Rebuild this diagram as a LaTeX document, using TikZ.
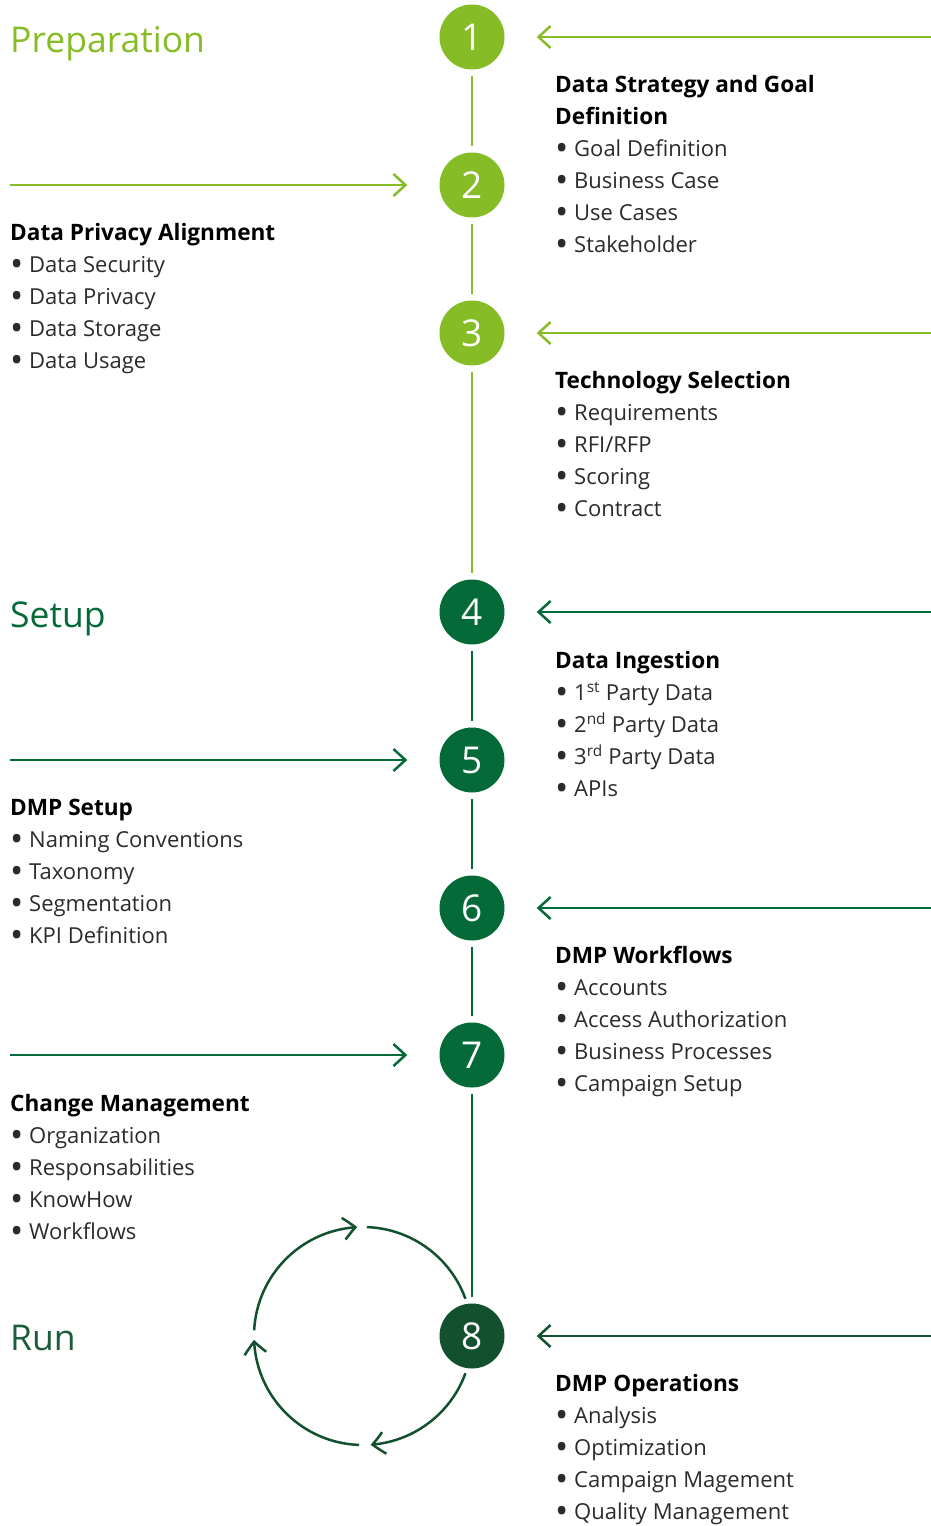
\documentclass[tikz,border=0pt]{standalone}
\usepackage{fontspec}
\setmainfont{Open Sans}
\usetikzlibrary{arrows.meta,bending}
\definecolor{lg}{HTML}{86BC25}
\definecolor{dg}{HTML}{046A38}
\definecolor{rg}{HTML}{12502E}
\definecolor{rt}{HTML}{1D5C3A}
\definecolor{txt}{HTML}{2B2B2B}
\newcommand\itm[1]{\makebox[19pt][l]{\raisebox{-4.5pt}{\scalebox{1.6}{•}}}#1}
\begin{document}
\begin{tikzpicture}[x=1pt,y=1pt,
  stepcircle/.style={circle, minimum size=65pt, inner sep=0pt, text=white, font=\fontsize{37}{37}\selectfont},
  link/.style={line width=2.5pt, shorten >=6pt, shorten <=6pt},
  feed/.style={line width=2.5pt, shorten >=32pt, -{Straight Barb[length=12pt,width=22pt]}},
  loopline/.style={line width=2.5pt, draw=rg},
  looptip/.style={loopline, -{Straight Barb[length=12pt,width=22pt,bend]}},
  phase/.style={anchor=base west, inner sep=0pt, font=\fontsize{35.5}{40}\selectfont},
  head/.style={anchor=base west, inner sep=0pt, font=\fontsize{22.6}{26}\selectfont\bfseries, text=black},
  itemtext/.style={anchor=base west, inner sep=0pt, font=\fontsize{22}{26}\selectfont, text=txt}]
\useasboundingbox (0,0) rectangle (931,-1526);

% phase titles
\node[phase, text=lg] (pPrep) at (10,-52) {Preparation};
\node[phase, text=dg] (pSetup) at (10,-627) {Setup};
\node[phase, text=rt] (pRun) at (10,-1350) {Run};

% step circles
\node[stepcircle, fill=lg] (c1) at (472,-37) {1};
\node[stepcircle, fill=lg] (c2) at (472,-185) {2};
\node[stepcircle, fill=lg] (c3) at (472,-333) {3};
\node[stepcircle, fill=dg] (c4) at (472,-612) {4};
\node[stepcircle, fill=dg] (c5) at (472,-760) {5};
\node[stepcircle, fill=dg] (c6) at (472,-908) {6};
\node[stepcircle, fill=dg] (c7) at (472,-1055) {7};
\node[stepcircle, fill=rg] (c8) at (472,-1336) {8};

% vertical links
\draw[link, lg] (c1) -- (c2);
\draw[link, lg] (c2) -- (c3);
\draw[link, lg] (c3) -- (c4);
\draw[link, dg] (c4) -- (c5);
\draw[link, dg] (c5) -- (c6);
\draw[link, dg] (c6) -- (c7);
\draw[link, dg] (c7) -- (c8);

% feed arrows
\coordinate (r1) at (931,-37);
\coordinate (l2) at (10,-185);
\coordinate (r3) at (931,-333);
\coordinate (r4) at (931,-612);
\coordinate (l5) at (10,-760);
\coordinate (r6) at (931,-908);
\coordinate (l7) at (10,-1055);
\coordinate (r8) at (931,-1336);
\draw[feed, lg] (r1) -- (c1);
\draw[feed, lg] (l2) -- (c2);
\draw[feed, lg] (r3) -- (c3);
\draw[feed, dg] (r4) -- (c4);
\draw[feed, dg] (l5) -- (c5);
\draw[feed, dg] (r6) -- (c6);
\draw[feed, dg] (l7) -- (c7);
\draw[feed, rg] (r8) -- (c8);

% run loop
\coordinate (loop) at (363,-1336);
\draw[loopline] (loop) ++(88:109) arc[start angle=88, end angle=20, radius=109];
\draw[looptip] (loop) ++(-20:109) arc[start angle=-20, end angle=-86, radius=109];
\draw[looptip] (loop) ++(-92:109) arc[start angle=-92, end angle=-178, radius=109];
\draw[looptip] (loop) ++(177:109) arc[start angle=177, end angle=93, radius=109];

% block 1
\node[head] (h1a) at (555,-92) {Data Strategy and Goal};
\node[head] (h1b) at (555,-124) {Definition};
\foreach \t [count=\k] in {Goal Definition, Business Case, Use Cases, Stakeholder}
  \node[itemtext] (i1-\k) at (555,{-124-32*\k}) {\itm{\t}};
% block 2
\node[head] (h2) at (10,-240) {Data Privacy Alignment};
\foreach \t [count=\k] in {Data Security, Data Privacy, Data Storage, Data Usage}
  \node[itemtext] (i2-\k) at (10,{-240-32*\k}) {\itm{\t}};
% block 3
\node[head] (h3) at (555,-388) {Technology Selection};
\foreach \t [count=\k] in {Requirements, RFI/RFP, Scoring, Contract}
  \node[itemtext] (i3-\k) at (555,{-388-32*\k}) {\itm{\t}};
% block 4
\node[head] (h4) at (555,-668) {Data Ingestion};
\foreach \t [count=\k] in {1\textsuperscript{st} Party Data, 2\textsuperscript{nd} Party Data, 3\textsuperscript{rd} Party Data, APIs}
  \node[itemtext] (i4-\k) at (555,{-668-32*\k}) {\itm{\t}};
% block 5
\node[head] (h5) at (10,-815) {DMP Setup};
\foreach \t [count=\k] in {Naming Conventions, Taxonomy, Segmentation, KPI Definition}
  \node[itemtext] (i5-\k) at (10,{-815-32*\k}) {\itm{\t}};
% block 6
\node[head] (h6) at (555,-963) {DMP Workflows};
\foreach \t [count=\k] in {Accounts, Access Authorization, Business Processes, Campaign Setup}
  \node[itemtext] (i6-\k) at (555,{-963-32*\k}) {\itm{\t}};
% block 7
\node[head] (h7) at (10,-1111) {Change Management};
\foreach \t [count=\k] in {Organization, Responsabilities, KnowHow, Workflows}
  \node[itemtext] (i7-\k) at (10,{-1111-32*\k}) {\itm{\t}};
% block 8
\node[head] (h8) at (555,-1391) {DMP Operations};
\foreach \t [count=\k] in {Analysis, Optimization, Campaign Magement, Quality Management}
  \node[itemtext] (i8-\k) at (555,{-1391-32*\k}) {\itm{\t}};
\end{tikzpicture}
\end{document}
